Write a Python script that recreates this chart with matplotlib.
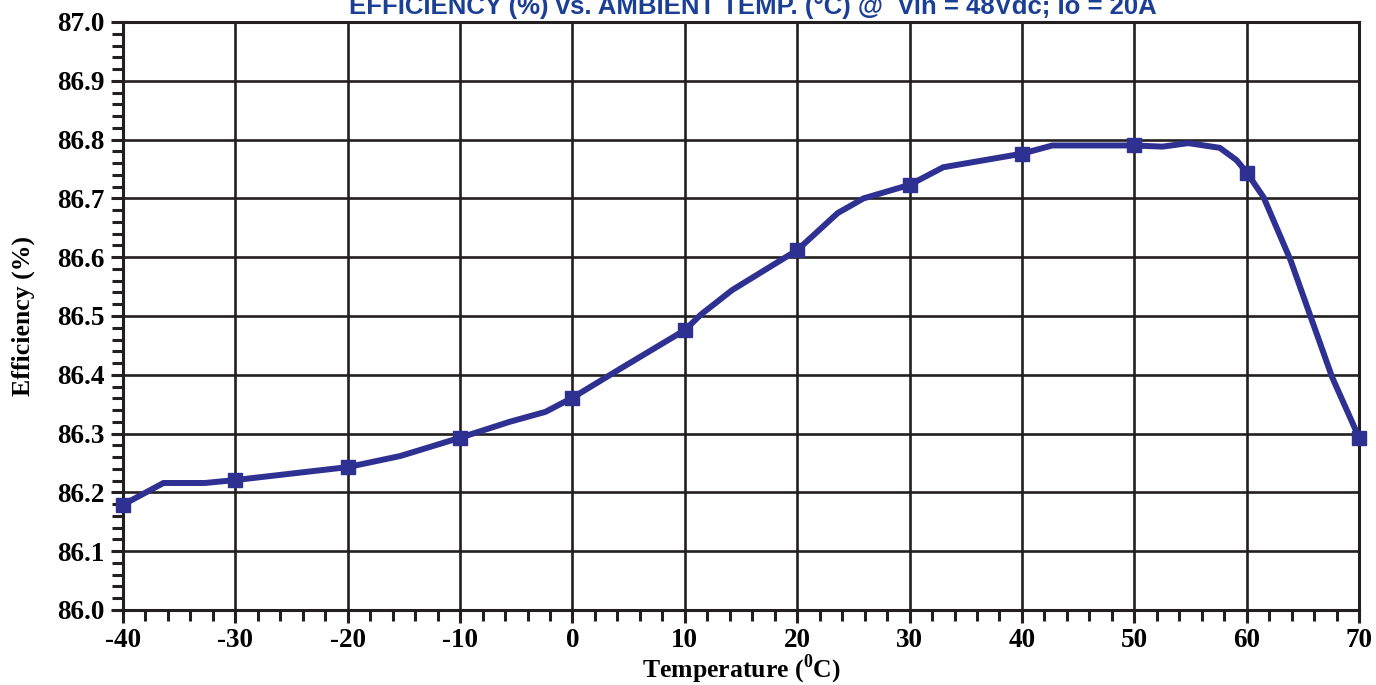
import numpy as np
import matplotlib
matplotlib.use("Agg")
import matplotlib.pyplot as plt
from matplotlib.ticker import MultipleLocator

# Efficiency vs ambient temperature
temp = [-40, -36.4, -32.7, -30, -20, -15.3, -10, -5.6, -2.4, 0, 4.4, 10, 11.4, 14.2,
        20, 23.6, 25.9, 30, 33, 40, 42.7, 50, 52.5, 54.8, 57.6, 59.1, 60, 61.5, 63.9, 67.6, 70]
eff = [86.179, 86.216, 86.216, 86.221, 86.243, 86.262, 86.293, 86.320, 86.337, 86.361, 86.412,
       86.476, 86.502, 86.544, 86.612, 86.675, 86.700, 86.723, 86.753, 86.776, 86.790, 86.790,
       86.788, 86.794, 86.786, 86.765, 86.744, 86.702, 86.595, 86.396, 86.293]
mark_temp = [-40, -30, -20, -10, 0, 10, 20, 30, 40, 50, 60, 70]
mark_eff = [86.179, 86.221, 86.243, 86.293, 86.361, 86.476, 86.612, 86.723, 86.776, 86.790, 86.744, 86.293]

line_color = "#2e3192"
plt.rcParams["font.family"] = ["Liberation Serif", "DejaVu Serif"]
plt.rcParams["font.weight"] = "bold"
plt.rcParams["mathtext.fontset"] = "custom"
plt.rcParams["mathtext.rm"] = "Liberation Serif:bold"
plt.rcParams["mathtext.bf"] = "Liberation Serif:bold"

fig = plt.figure(figsize=(13.76, 6.85), dpi=100)
ax = fig.add_axes([0.0894, 0.1095, 0.8983, 0.8584])

ax.plot(temp, eff, color=line_color, lw=4.3, zorder=3, solid_joinstyle="miter")
ax.plot(mark_temp, mark_eff, ls="none", marker="s", ms=10, color=line_color, zorder=4, clip_on=False)

ax.set_xlim(-40, 70)
ax.set_ylim(86.0, 87.0)
ax.xaxis.set_major_locator(MultipleLocator(10))
ax.xaxis.set_minor_locator(MultipleLocator(2))
ax.yaxis.set_major_locator(MultipleLocator(0.1))
ax.yaxis.set_minor_locator(MultipleLocator(0.02))
ax.yaxis.set_major_formatter(matplotlib.ticker.FormatStrFormatter("%.1f"))
ax.xaxis.set_major_formatter(matplotlib.ticker.FormatStrFormatter("%d"))

ax.grid(which="major", color="#231f20", lw=1.9)
for s in ax.spines.values():
    s.set_linewidth(2.2)
    s.set_color("#231f20")

ax.tick_params(which="major", length=9, width=2.2, color="#231f20", labelsize=19.5, pad=4)
ax.tick_params(which="minor", length=8, width=2.2, color="#231f20")

ax.set_xlabel(r"Temperature ($^{0}$C)", fontsize=18.5, fontweight="bold", labelpad=0)
ax.set_ylabel("Efficiency (%)", fontsize=18.5, fontweight="bold", labelpad=16)

fig.text(0.547, 0.979, "EFFICIENCY (%) vs. AMBIENT TEMP. (°C) @  Vin = 48Vdc; Io = 20A",
         ha="center", va="baseline", fontsize=18.5, fontweight="bold", color="#1b3f94",
         family="Liberation Sans")

fig.savefig("out.png", dpi=100)
